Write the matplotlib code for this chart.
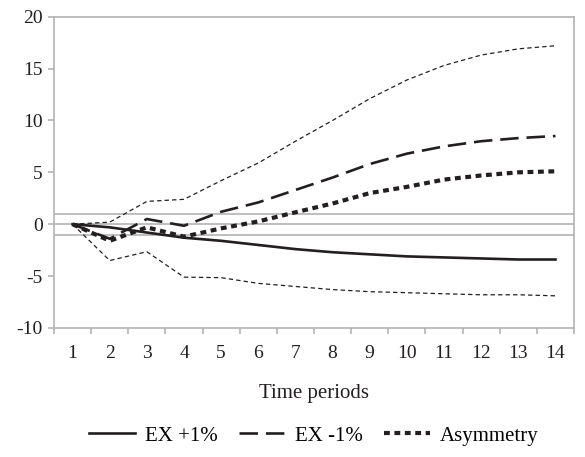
import matplotlib
matplotlib.use("Agg")
import matplotlib.pyplot as plt

periods = list(range(1, 15))
ex_plus = [0, -0.3, -0.8, -1.3, -1.6, -2.0, -2.4, -2.7, -2.9, -3.1, -3.2, -3.3, -3.4, -3.4]
ex_minus = [0, -1.4, 0.5, -0.15, 1.2, 2.1, 3.3, 4.5, 5.8, 6.8, 7.5, 8.0, 8.3, 8.5]
asym = [0, -1.6, -0.3, -1.2, -0.4, 0.27, 1.15, 2.0, 3.0, 3.6, 4.3, 4.7, 5.0, 5.1]
upper = [0, 0.2, 2.2, 2.4, 4.2, 5.9, 8.0, 10.0, 12.1, 13.9, 15.3, 16.3, 16.9, 17.2]
lower = [0, -3.5, -2.65, -5.1, -5.15, -5.7, -6.0, -6.3, -6.5, -6.6, -6.7, -6.8, -6.8, -6.9]
yticks = [-10, -5, 0, 5, 10, 15, 20]
ref_lines = [-1, 0, 1]

plt.rcParams['font.family'] = ['Liberation Serif', 'DejaVu Serif']
plt.rcParams['axes.unicode_minus'] = False
grey = '#b3b3b3'
ink = '#231f20'
fs = 14

fig = plt.figure(figsize=(5.85, 4.57), dpi=100)
ax = fig.add_axes([0.0923, 0.2823, 0.889, 0.6812])

for v in ref_lines:
    ax.axhline(v, color=grey, lw=1.2, zorder=1)

ax.plot(periods, upper, color=ink, lw=0.9, dashes=(3.5, 2.5), zorder=2)
ax.plot(periods, lower, color=ink, lw=0.9, dashes=(3.5, 2.5), zorder=2)
l1, = ax.plot(periods, ex_plus, color=ink, lw=1.9, label='EX +1%', zorder=3)
l2, = ax.plot(periods, ex_minus, color=ink, lw=1.9, dashes=(7, 3), label='EX -1%', zorder=3)
l3, = ax.plot(periods, asym, color=ink, lw=3.0, dashes=(1.4, 1.1), label='Asymmetry', zorder=3)

ax.set_xlim(0.5, 14.5)
ax.set_ylim(-10, 20)
ax.set_yticks(yticks)
ax.set_xticks(periods)
ax.set_xticks([p + 0.5 for p in [0] + periods], minor=True)
ax.tick_params(axis='x', which='major', length=0, pad=12, labelsize=fs, colors=ink)
ax.tick_params(axis='x', which='minor', length=4, color=grey, width=1.2)
ax.tick_params(axis='y', length=4, color=grey, width=1.2, labelsize=fs, labelcolor=ink, pad=4)
for s in ax.spines.values():
    s.set_color(grey)
    s.set_linewidth(1.2)

ax.set_xlabel('Time periods', fontsize=15, color=ink, labelpad=16)

fig.legend(handles=[l1, l2, l3], loc='center', bbox_to_anchor=(0.537, 0.046), ncol=3,
           frameon=False, fontsize=15, handlelength=2.2, columnspacing=1.0, handletextpad=0.5)

fig.savefig('out.png', dpi=100)
